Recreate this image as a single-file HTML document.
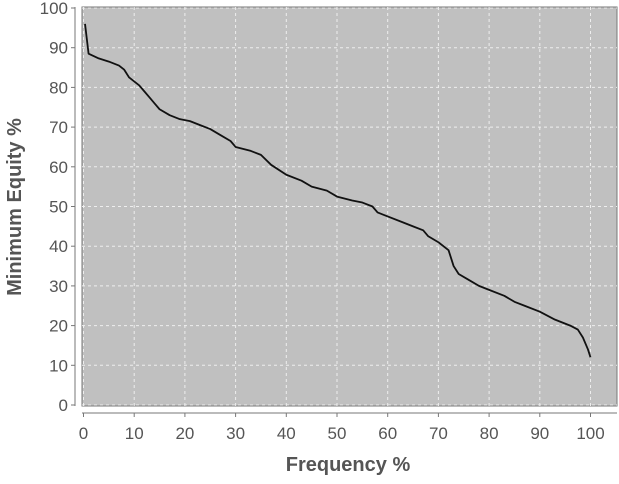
<!DOCTYPE html>
<html><head><meta charset="utf-8"><style>
body{margin:0;background:#fff;font-family:"Liberation Sans",sans-serif}
</style></head><body>
<svg id="chart" width="619" height="479"></svg>
<script>
const xTicks=[0,10,20,30,40,50,60,70,80,90,100];
const yTicks=[0,10,20,30,40,50,60,70,80,90,100];
const freq=[0.3,1,3,5,7,8,9,10,11,12,13,14,15,17,19,21,23,25,27,29,30,33,35,37,40,43,45,48,50,53,55,57,58,60,63,65,67,68,70,72,73,74,76,78,80,83,85,87,90,93,96,97.5,98.5,99.5,100];
const equity=[96,88.5,87.3,86.5,85.5,84.5,82.5,81.5,80.5,79,77.5,76,74.5,73,72,71.5,70.5,69.5,68,66.5,65,64,63,60.5,58,56.5,55,54,52.5,51.5,51,50,48.5,47.5,46,45,44,42.5,41,39,35,33,31.5,30,29,27.5,26,25,23.5,21.5,20,19,17,14,12];
const NS='http://www.w3.org/2000/svg';
const svg=document.getElementById('chart');
const L=82,R=617,T=7,B=406;
const X=v=>83.5+v/100*507;
const Y=v=>405-v/100*397;
function mk(t,a){const e=document.createElementNS(NS,t);for(const k in a)e.setAttribute(k,a[k]);svg.appendChild(e);return e;}
const bg=mk('rect',{x:L,y:T,width:R-L,height:B-T,fill:'#c0c0c0',stroke:'#777','stroke-width':1});


xTicks.forEach(v=>{
 const g=mk('line',{x1:X(v),x2:X(v),y1:T,y2:B,stroke:'#eee','stroke-dasharray':'3,3','stroke-width':1});
 
 
 mk('line',{x1:X(v),x2:X(v),y1:413,y2:417,stroke:'#777'});
 const t=mk('text',{x:X(v),y:439,'text-anchor':'middle','font-size':17,fill:'#555'});
 t.textContent=v;
 
 
});
yTicks.forEach(v=>{
 const g=mk('line',{x1:L,x2:R,y1:Y(v),y2:Y(v),stroke:'#eee','stroke-dasharray':'3,3','stroke-width':1});
 
 
 mk('line',{x1:71,x2:75,y1:Y(v),y2:Y(v),stroke:'#777'});
 const t=mk('text',{x:68,y:Y(v)+6,'text-anchor':'end','font-size':17,fill:'#555'});
 t.textContent=v;
 
 
});
mk('line',{x1:75,x2:75,y1:T,y2:B,stroke:'#777'});
mk('line',{x1:L,x2:R,y1:413,y2:413,stroke:'#777'});
const p=mk('polyline',{points:freq.map((f,i)=>X(f)+','+Y(equity[i])).join(' '),fill:'none',stroke:'#111','stroke-width':1.8,'stroke-linejoin':'round'});


const xt=mk('text',{x:348,y:471,'text-anchor':'middle','font-size':20,'font-weight':'bold',fill:'#555'});
xt.textContent='Frequency %';


const yt=mk('text',{x:0,y:0,transform:'translate(21,207) rotate(-90)','text-anchor':'middle','font-size':20,'font-weight':'bold',fill:'#555'});
yt.textContent='Minimum Equity %';


</script>
</body></html>
